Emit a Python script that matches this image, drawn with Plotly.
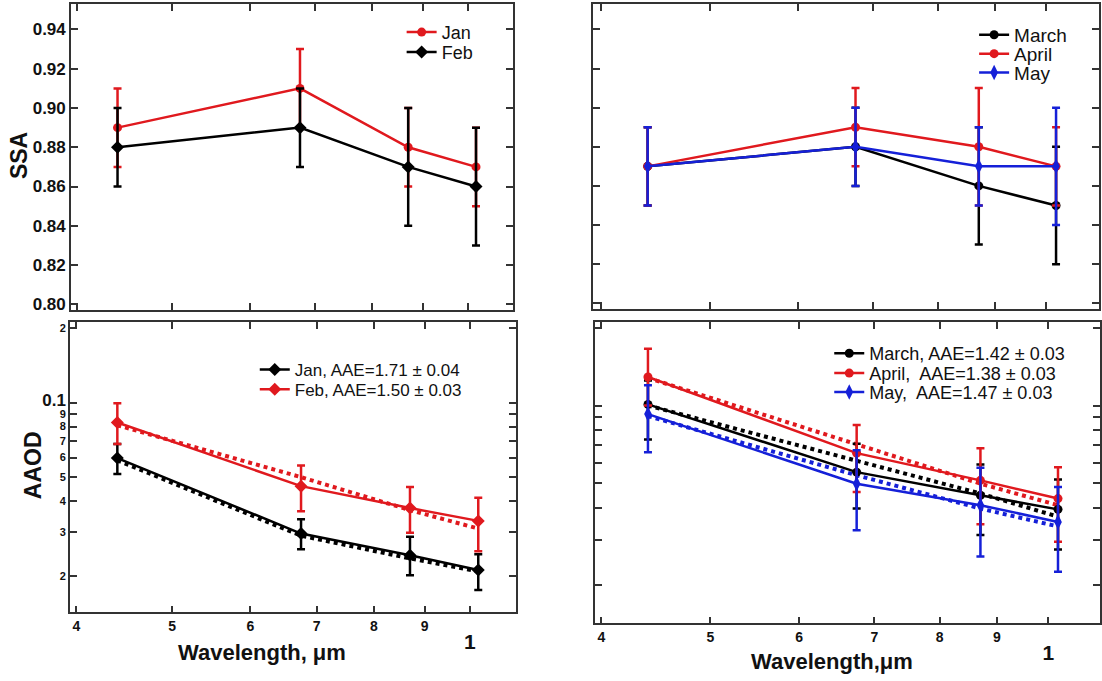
import plotly.graph_objects as go

# ---------------- data ----------------
wavelength = [0.44, 0.675, 0.87, 1.02]

# SSA (top panels)
ssa_jan = [0.89, 0.91, 0.88, 0.87]
ssa_jan_err = [0.02, 0.02, 0.02, 0.02]
ssa_feb = [0.88, 0.89, 0.87, 0.86]
ssa_feb_err = [0.02, 0.02, 0.03, 0.03]
ssa_mar = [0.87, 0.88, 0.86, 0.85]
ssa_mar_err = [0.02, 0.02, 0.03, 0.03]
ssa_apr = [0.87, 0.89, 0.88, 0.87]
ssa_apr_err = [0.02, 0.02, 0.03, 0.02]
ssa_may = [0.87, 0.88, 0.87, 0.87]
ssa_may_err = [0.02, 0.02, 0.02, 0.03]

# AAOD (bottom panels): value, upper and lower error-bar ends, fitted curve
aaod_jan = [0.0597, 0.0296, 0.0242, 0.0211]
aaod_jan_hi = [0.068, 0.0338, 0.0287, 0.0244]
aaod_jan_lo = [0.0515, 0.0256, 0.0201, 0.0175]
aaod_jan_fit = [0.0585, 0.0290, 0.0235, 0.0208]

aaod_feb = [0.0831, 0.046, 0.0375, 0.0333]
aaod_feb_hi = [0.0994, 0.0557, 0.0456, 0.0413]
aaod_feb_lo = [0.068, 0.0364, 0.0298, 0.0251]
aaod_feb_fit = [0.081, 0.050, 0.0368, 0.031]

aaod_mar = [0.101, 0.0551, 0.0448, 0.0395]
aaod_mar_hi = [0.125, 0.071, 0.059, 0.0516]
aaod_mar_lo = [0.0738, 0.0398, 0.0314, 0.0276]
aaod_mar_fit = [0.100, 0.061, 0.0455, 0.037]

aaod_apr = [0.129, 0.0653, 0.0512, 0.0435]
aaod_apr_hi = [0.166, 0.084, 0.0682, 0.0576]
aaod_apr_lo = [0.100, 0.0461, 0.0346, 0.0296]
aaod_apr_fit = [0.128, 0.071, 0.0497, 0.041]

aaod_may = [0.0926, 0.0497, 0.041, 0.0353]
aaod_may_hi = [0.120, 0.067, 0.0573, 0.0482]
aaod_may_lo = [0.0659, 0.0328, 0.0259, 0.0226]
aaod_may_fit = [0.091, 0.0536, 0.0398, 0.0339]

# tick labels
x_tickvals = [0.4, 0.5, 0.6, 0.7, 0.8, 0.9, 1.0]
x_ticktext = ["4", "5", "6", "7", "8", "9", "<br><span style='font-size:21px'>1</span>"]
ssa_tickvals = [0.80, 0.82, 0.84, 0.86, 0.88, 0.90, 0.92, 0.94]
ssa_ticktext = ["0.80", "0.82", "0.84", "0.86", "0.88", "0.90", "0.92", "0.94"]
aaod_tickvals = [0.02, 0.03, 0.04, 0.05, 0.06, 0.07, 0.08, 0.09, 0.1, 0.2]
aaod_ticktext = ["2", "3", "4", "5", "6", "7", "8", "9",
                 "<span style='font-size:17px'>0.1</span>", "2"]

RED = "#e0191e"
BLACK = "#000000"
BLUE = "#1520d8"
FONT = "Liberation Sans"
TXT = "#111111"

W, H = 1102, 681


def dom_x(a, b):
    return [a / W, b / W]


def dom_y(top, bottom):
    return [1 - bottom / H, 1 - top / H]


fig = go.Figure()
legends = {}
leg_count = [0]


def new_legend(text_x, center_y, size):
    leg_count[0] += 1
    key = "legend" if leg_count[0] == 1 else "legend%d" % leg_count[0]
    legends[key] = dict(x=(text_x - 40) / W, y=1 - (center_y - 19) / H,
                        xanchor="left", yanchor="top", bgcolor="rgba(0,0,0,0)",
                        borderwidth=0, itemwidth=30,
                        font=dict(family=FONT, size=size, color=TXT))
    return key


def err(vals, hi, lo, color):
    return dict(type="data", symmetric=False,
                array=[h - v for h, v in zip(hi, vals)],
                arrayminus=[v - l for v, l in zip(vals, lo)],
                thickness=2.5, width=4, color=color)


def ssa_trace(name, vals, e, color, symbol, size, xa, ya, legend):
    return go.Scatter(x=wavelength, y=vals, name=name, mode="lines+markers",
                      line=dict(color=color, width=2.5),
                      marker=dict(color=color, symbol=symbol, size=size),
                      error_y=dict(type="data", array=e, thickness=2.5, width=4, color=color),
                      xaxis=xa, yaxis=ya, legend=legend)


def aaod_trace(name, vals, hi, lo, color, symbol, size, xa, ya, legend):
    return go.Scatter(x=wavelength, y=vals, name=name, mode="lines+markers",
                      line=dict(color=color, width=2.5),
                      marker=dict(color=color, symbol=symbol, size=size),
                      error_y=err(vals, hi, lo, color), xaxis=xa, yaxis=ya, legend=legend)


def fit_trace(vals, color, xa, ya):
    return go.Scatter(x=wavelength, y=vals, mode="lines", showlegend=False,
                      line=dict(color=color, width=4, dash="dot"),
                      xaxis=xa, yaxis=ya, hoverinfo="skip")


# top-left
fig.add_trace(ssa_trace("Jan", ssa_jan, ssa_jan_err, RED, "circle", 9, "x", "y",
                        new_legend(442, 33, 18)))
fig.add_trace(ssa_trace("Feb", ssa_feb, ssa_feb_err, BLACK, "diamond", 10, "x", "y",
                        new_legend(442, 53, 18)))
# top-right
fig.add_trace(ssa_trace("March", ssa_mar, ssa_mar_err, BLACK, "circle", 9, "x2", "y2",
                        new_legend(1015, 35, 19)))
fig.add_trace(ssa_trace("April", ssa_apr, ssa_apr_err, RED, "circle", 9, "x2", "y2",
                        new_legend(1015, 54, 19)))
fig.add_trace(ssa_trace("May", ssa_may, ssa_may_err, BLUE, "diamond-tall", 11, "x2", "y2",
                        new_legend(1015, 73, 19)))
# bottom-left
fig.add_trace(fit_trace(aaod_jan_fit, BLACK, "x3", "y3"))
fig.add_trace(fit_trace(aaod_feb_fit, RED, "x3", "y3"))
fig.add_trace(aaod_trace("Jan, AAE=1.71 \u00b1 0.04", aaod_jan, aaod_jan_hi, aaod_jan_lo,
                         BLACK, "diamond", 10, "x3", "y3", new_legend(295, 373, 17)))
fig.add_trace(aaod_trace("Feb, AAE=1.50 \u00b1 0.03", aaod_feb, aaod_feb_hi, aaod_feb_lo,
                         RED, "diamond", 10, "x3", "y3", new_legend(295, 393, 17)))
# bottom-right
fig.add_trace(fit_trace(aaod_mar_fit, BLACK, "x4", "y4"))
fig.add_trace(fit_trace(aaod_apr_fit, RED, "x4", "y4"))
fig.add_trace(fit_trace(aaod_may_fit, BLUE, "x4", "y4"))
fig.add_trace(aaod_trace("March, AAE=1.42 \u00b1 0.03", aaod_mar, aaod_mar_hi, aaod_mar_lo,
                         BLACK, "circle", 9, "x4", "y4", new_legend(870, 356, 18)))
fig.add_trace(aaod_trace("April,  AAE=1.38 \u00b1 0.03", aaod_apr, aaod_apr_hi, aaod_apr_lo,
                         RED, "circle", 9, "x4", "y4", new_legend(870, 376, 18)))
fig.add_trace(aaod_trace("May,  AAE=1.47 \u00b1 0.03", aaod_may, aaod_may_hi, aaod_may_lo,
                         BLUE, "diamond-tall", 11, "x4", "y4", new_legend(870, 395, 18)))

AX = dict(showline=True, linecolor="#333333", linewidth=1.5, mirror="allticks",
          ticks="inside", ticklen=7, tickwidth=1.5, tickcolor="#333333",
          showgrid=False, zeroline=False,
          tickfont=dict(family=FONT, size=14, color=TXT, weight="bold"))

xa_common = dict(AX, type="log", tickvals=x_tickvals, ticktext=x_ticktext)

title_font = dict(family=FONT, color=TXT, weight="bold")

fig.update_layout(
    width=W, height=H, margin=dict(l=0, r=0, t=0, b=0),
    plot_bgcolor="white", paper_bgcolor="white",
    font=dict(family=FONT, color=TXT),
    xaxis=dict(xa_common, domain=dom_x(71, 513), range=[-0.404, 0.0458],
               showticklabels=False, anchor="y"),
    yaxis=dict(AX, domain=dom_y(4, 312), range=[0.797, 0.953],
               tickvals=ssa_tickvals, ticktext=ssa_ticktext, anchor="x",
               tickfont=dict(family=FONT, size=17, color=TXT, weight="bold")),
    xaxis2=dict(xa_common, domain=dom_x(594, 1100), range=[-0.405, 0.047],
                showticklabels=False, anchor="y2"),
    yaxis2=dict(AX, domain=dom_y(4, 311), range=[0.797, 0.953],
                tickvals=ssa_tickvals, showticklabels=False, anchor="x2"),
    xaxis3=dict(xa_common, domain=dom_x(70, 516), range=[-0.4045, 0.0463], anchor="y3"),
    yaxis3=dict(AX, type="log", domain=dom_y(324, 616), range=[-1.847, -0.675],
                tickvals=aaod_tickvals, ticktext=aaod_ticktext, anchor="x3",
                tickfont=dict(family=FONT, size=11, color=TXT, weight="bold")),
    xaxis4=dict(xa_common, domain=dom_x(596, 1101), range=[-0.4033, 0.046], anchor="y4"),
    yaxis4=dict(AX, type="log", domain=dom_y(324, 627), range=[-1.846, -0.676],
                tickvals=aaod_tickvals, showticklabels=False, anchor="x4"),
    annotations=[
        dict(text="SSA", x=19 / W, y=1 - 156 / H, xref="paper", yref="paper",
             xanchor="center", yanchor="middle",
             textangle=-90, showarrow=False, font=dict(title_font, size=23)),
        dict(text="AAOD", x=33 / W, y=1 - 468 / H, xref="paper", yref="paper",
             xanchor="center", yanchor="middle",
             textangle=-90, showarrow=False, font=dict(title_font, size=23)),
        dict(text="Wavelength, \u03bcm", x=262 / W, y=1 - 656 / H, xref="paper", yref="paper",
             xanchor="center", yanchor="middle",
             showarrow=False, font=dict(title_font, size=22)),
        dict(text="Wavelength,\u03bcm", x=833 / W, y=1 - 665 / H, xref="paper", yref="paper",
             xanchor="center", yanchor="middle",
             showarrow=False, font=dict(title_font, size=22)),
    ],
)
fig.update_layout(**legends)

fig.write_html("out.html", config={"displayModeBar": False},
               post_script="document.body.style.margin='0px';")
